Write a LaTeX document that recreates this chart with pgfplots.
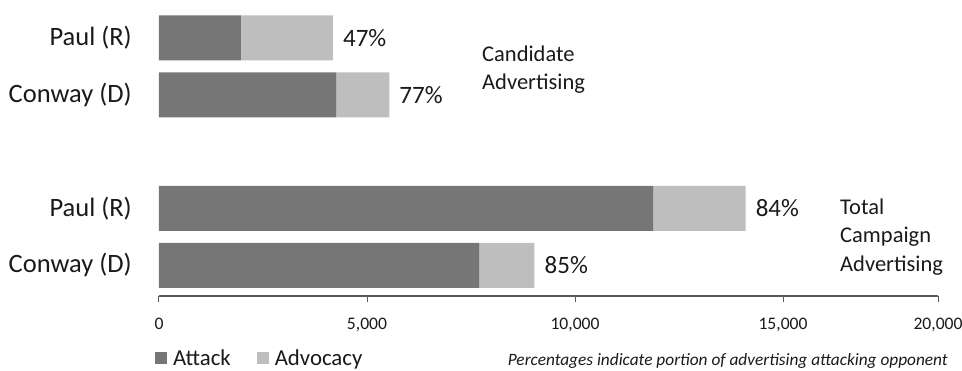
\documentclass[border=0pt]{standalone}
\usepackage{pgfplots}
\pgfplotsset{compat=1.18}
\usepackage{pgfplotstable}
\usepackage{fontspec}
\setmainfont{Carlito}
\definecolor{attackc}{HTML}{767676}
\definecolor{advc}{HTML}{BEBEBE}
\definecolor{axc}{HTML}{5A5A5A}
\definecolor{txt}{HTML}{1A1A1A}

% y: 0 = Conway total, 1 = Paul total, 3 = Conway candidate, 4 = Paul candidate
\pgfplotstableread{
y attack advocacy
0 7700  1325
1 11875 2225
3 4255  1280
4 1970  2210
}\adtable

\begin{document}
\begin{tikzpicture}
\useasboundingbox (-159pt,-75pt) rectangle (803pt,296pt);
\begin{axis}[
  scale only axis, width=779pt, height=296pt,
  at={(0pt,0pt)}, anchor=south west,
  xbar stacked, bar width=45pt,
  xmin=0, xmax=20000, ymin=-0.54, ymax=4.667,
  x coord trafo/.code={%
    \begingroup
    \pgfkeys{/pgf/fpu=true,/pgf/fpu/output format=fixed}%
    \pgfmathparse{min(#1,15000)+max(#1-15000,0)*0.745}%
    \global\let\mytrafores\pgfmathresult
    \endgroup
    \let\pgfmathresult\mytrafores
  },
  scaled x ticks=false,
  xtick={0,5000,10000,15000,20000},
  xticklabels={0,{5,000},{10,000},{15,000},{20,000}},
  ytick={0,1,3,4},
  yticklabels={Conway (D),Paul (R),Conway (D),Paul (R)},
  axis x line=bottom, axis y line=left,
  x axis line style={-, draw=axc, line width=1.3pt},
  y axis line style={draw=none},
  xtick style={draw=axc, line width=1pt}, ytick style={draw=none},
  tick align=outside, major tick length=6pt,
  xticklabel style={font=\fontsize{17.6}{20}\selectfont, text=txt, inner sep=0pt, yshift=-16pt},
  yticklabel style={font=\fontsize{26.5}{30}\selectfont, text=txt, inner sep=0pt, xshift=-21pt},
  legend style={draw=none, fill=none, inner sep=0pt, outer sep=0pt,
    at={(axis description cs:-0.0051,-0.211)}, anchor=west,
    font=\fontsize{22.8}{26}\selectfont, text=txt, nodes={inner sep=0pt},
    /tikz/every odd column/.append style={column sep=6pt},
    /tikz/every even column/.append style={column sep=26pt}},
  legend columns=2,
  legend image code/.code={\fill[#1] (0pt,-6pt) rectangle (12pt,6pt);},
  clip=false,
]
\addplot[fill=attackc, draw=none] table[x=attack, y=y] {\adtable};
\addplot[fill=advc, draw=none] table[x=advocacy, y=y] {\adtable};
\legend{Attack, Advocacy}
\node[anchor=west, inner sep=0pt, xshift=10pt, font=\fontsize{25}{30}\selectfont, text=txt] at (axis cs:4180,4) {47\%};
\node[anchor=west, inner sep=0pt, xshift=10pt, font=\fontsize{25}{30}\selectfont, text=txt] at (axis cs:5535,3) {77\%};
\node[anchor=west, inner sep=0pt, xshift=10pt, font=\fontsize{25}{30}\selectfont, text=txt] at (axis cs:14100,1) {84\%};
\node[anchor=west, inner sep=0pt, xshift=10pt, font=\fontsize{25}{30}\selectfont, text=txt] at (axis cs:9025,0) {85\%};
\end{axis}
\begin{scope}[every node/.style={anchor=base west, inner sep=0pt, font=\fontsize{22.5}{26}\selectfont, text=txt}]
\node at (323pt,234pt) {Candidate};
\node at (323pt,206pt) {Advertising};
\node at (681pt,81pt) {Total};
\node at (681pt,53pt) {Campaign};
\node at (681pt,24pt) {Advertising};
\end{scope}
\node[anchor=base east, inner sep=0pt, font=\fontsize{17.3}{20}\selectfont\itshape, text=txt] at (789pt,-70pt) {Percentages indicate portion of advertising attacking opponent};
\end{tikzpicture}
\end{document}
